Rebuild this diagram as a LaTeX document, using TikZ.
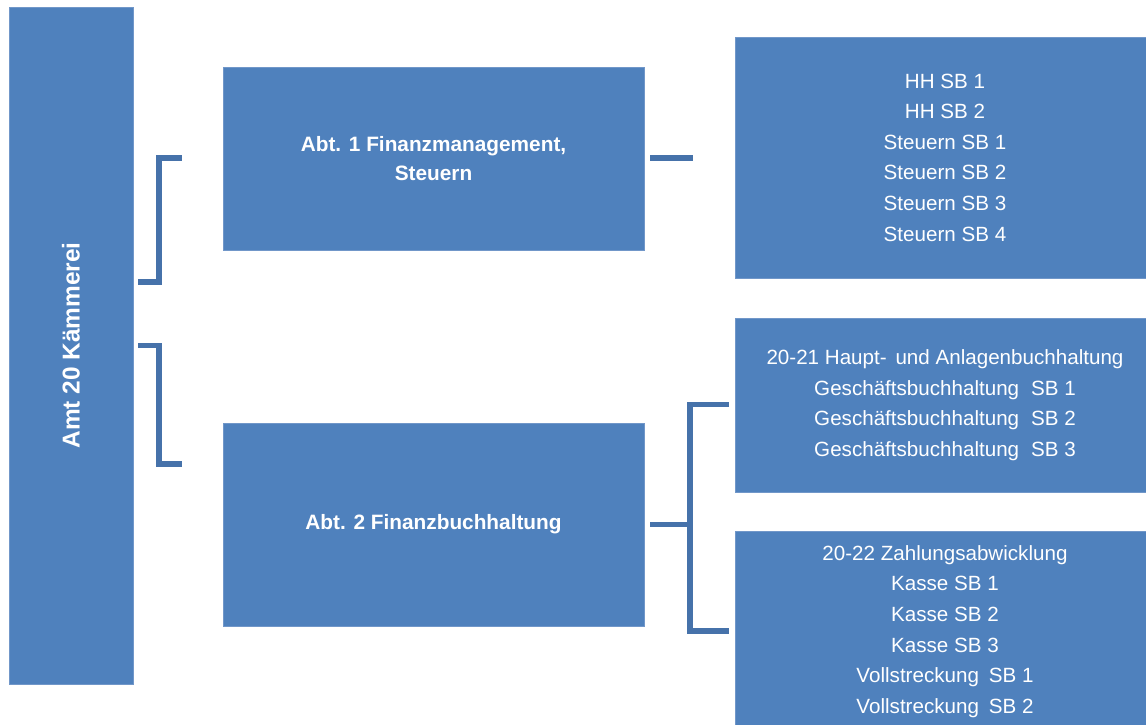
\documentclass[tikz,border=0pt]{standalone}
\usepackage{fontspec}
\setmainfont{Liberation Sans}
\definecolor{boxblue}{HTML}{4F81BD}
\definecolor{boxedge}{HTML}{7197C9}
\definecolor{linkblue}{RGB}{70,114,170}
\begin{document}
\begin{tikzpicture}[x=1pt,y=-1pt,
  box/.style={draw=boxedge,line width=0.8pt,fill=boxblue,text=white,inner sep=0pt,align=center},
  plain/.style={font=\fontsize{20.6}{30.6}\selectfont},
  heavy/.style={font=\bfseries\fontsize{20.8}{29}\selectfont},
  conn/.style={draw=linkblue,line width=5.5pt}]
\useasboundingbox (0,0) rectangle (1146,725);
\clip (0,0) rectangle (1146,725);
% left vertical box
\node[box,rotate=90,minimum width=677pt,minimum height=124pt,
      font=\bfseries\fontsize{24.4}{28}\selectfont] (amt) at (71,345.5) {Amt 20 Kämmerei};
% departments
\node[box,heavy,minimum width=421pt,minimum height=183pt] (abt1) at (433.5,158.5)
  {Abt. 1 Finanzmanagement,\\Steuern};
\node[box,heavy,minimum width=421pt,minimum height=203pt] (abt2) at (433.5,524.5)
  {Abt. 2 Finanzbuchhaltung};
% right boxes
\node[box,plain,minimum width=420pt,minimum height=241pt] (hh) at (945,157.5)
  {HH SB 1\\HH SB 2\\Steuern SB 1\\Steuern SB 2\\Steuern SB 3\\Steuern SB 4};
\node[box,plain,minimum width=420pt,minimum height=174pt] (gb) at (945,405)
  {20-21 Haupt-\hspace{0.15em} und Anlagenbuchhaltung\\Geschäftsbuchhaltung\hspace{0.3em} SB 1\\Geschäftsbuchhaltung\hspace{0.3em} SB 2\\Geschäftsbuchhaltung\hspace{0.3em} SB 3};
\node[box,plain,minimum width=420pt,minimum height=201pt] (za) at (945,631.5)
  {20-22 Zahlungsabwicklung\\Kasse SB 1\\Kasse SB 2\\Kasse SB 3\\Vollstreckung\hspace{0.2em} SB 1\\Vollstreckung\hspace{0.2em} SB 2};
% connector points
\coordinate (b1lo) at (138,282);
\coordinate (b1hi) at (182,158);
\coordinate (b2hi) at (138,345.5);
\coordinate (b2lo) at (182,464);
\coordinate (l1a) at (650,158);
\coordinate (l1b) at (693,158);
\coordinate (l2a) at (650,524.5);
\coordinate (fork) at (690,524.5);
\coordinate (f1) at (729,404.5);
\coordinate (f2) at (729,631);
% connectors
\draw[conn] (b1lo) -- (159,282) -- (159,158) -- (b1hi);
\draw[conn] (b2hi) -- (159,345.5) -- (159,464) -- (b2lo);
\draw[conn] (l1a) -- (l1b);
\draw[conn] (l2a) -- (fork);
\draw[conn] (f1) -- (690,404.5) -- (690,631) -- (f2);
\end{tikzpicture}
\end{document}
